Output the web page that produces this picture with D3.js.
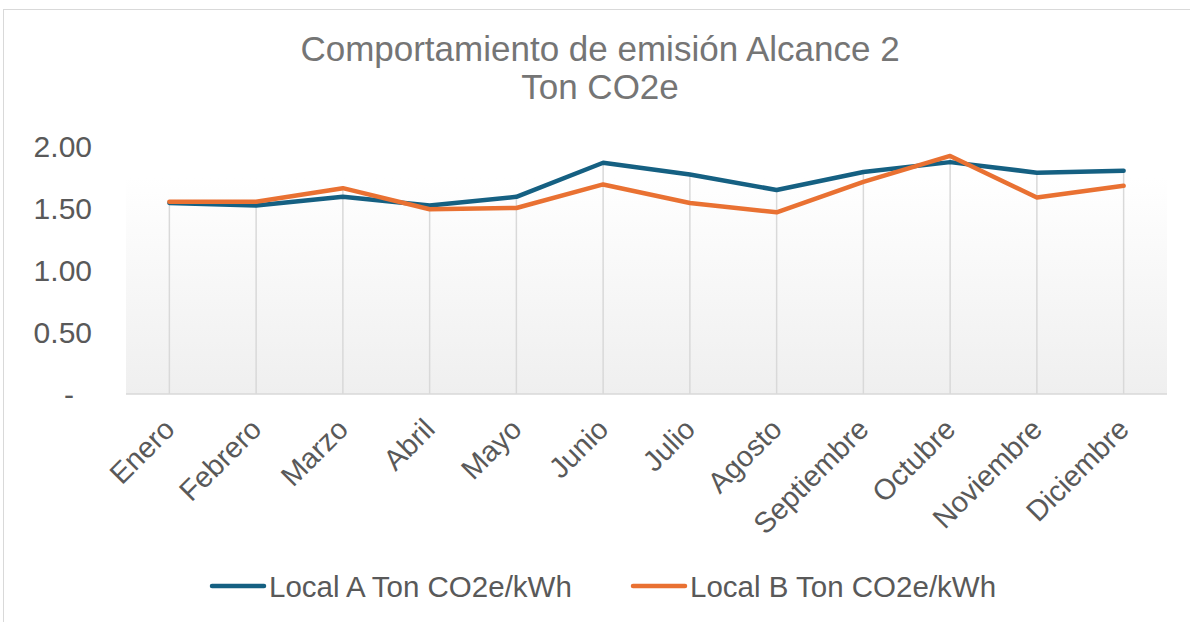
<!DOCTYPE html>
<html>
<head>
<meta charset="utf-8">
<script src="https://cdn.jsdelivr.net/npm/d3@7"></script>
<style>
  body { margin: 0; background: #fff; }
  text { font-family: "Liberation Sans", Arial, sans-serif; }
</style>
</head>
<body>
<div class="plot"></div>
<script>
// data
const months = ["Enero", "Febrero", "Marzo", "Abril", "Mayo", "Junio", "Julio",
  "Agosto", "Septiembre", "Octubre", "Noviembre", "Diciembre"];
const localA = [1.54, 1.52, 1.59, 1.52, 1.59, 1.865, 1.77, 1.645, 1.79, 1.87, 1.785, 1.80];
const localB = [1.55, 1.55, 1.66, 1.49, 1.50, 1.69, 1.54, 1.465, 1.71, 1.92, 1.585, 1.68];
const yTicks = [0, 0.5, 1, 1.5, 2];
const seriesNames = ["Local A Ton CO2e/kWh", "Local B Ton CO2e/kWh"];
const colors = ["#156082", "#E97132"];

const W = 1190, H = 622;
const margin = {top: 146, right: 23, bottom: 228, left: 126};
const w = W - margin.left - margin.right;
const h = H - margin.top - margin.bottom;

const svg = d3.select(".plot")
  .append("svg")
    .attr("width", W)
    .attr("height", H);

// chart border
svg.append("rect")
  .attr("x", 3.5).attr("y", 9.5)
  .attr("width", W + 20).attr("height", H + 20)
  .attr("fill", "none")
  .attr("stroke", "#d9d9d9");

// title
const title = svg.append("text")
  .attr("x", 600)
  .attr("text-anchor", "middle")
  .style("font-size", "35px")
  .style("fill", "#757575");
title.append("tspan").attr("x", 600).attr("y", 61).text("Comportamiento de emisión Alcance 2");
title.append("tspan").attr("x", 600).attr("y", 99).text("Ton CO2e");

const g = svg.append("g")
  .attr("transform", "translate(" + margin.left + "," + margin.top + ")");

const x = d3.scaleBand().domain(months).range([0, w]);
const y = d3.scaleLinear().domain([0, 2]).range([h, 0]);
const cx = d => x(d) + x.bandwidth() / 2;

// plot area gradient
const grad = svg.append("defs").append("linearGradient")
  .attr("id", "bg").attr("x1", 0).attr("y1", 0).attr("x2", 0).attr("y2", 1);
grad.append("stop").attr("offset", "0%").attr("stop-color", "#ffffff");
grad.append("stop").attr("offset", "100%").attr("stop-color", "#efefef");

g.append("rect")
  .attr("x", 0).attr("y", y(1.75))
  .attr("width", w).attr("height", h - y(1.75))
  .attr("fill", "url(#bg)");

// drop lines
g.selectAll(".drop")
  .data(months)
  .enter()
  .append("line")
    .attr("class", "drop")
    .attr("x1", d => cx(d)).attr("x2", d => cx(d))
    .attr("y1", h)
    .attr("y2", (d, i) => y(Math.max(localA[i], localB[i])))
    .attr("stroke", "#d9d9d9")
    .attr("stroke-width", 1.5);

// x axis line
g.append("line")
  .attr("x1", 0).attr("x2", w)
  .attr("y1", h).attr("y2", h)
  .attr("stroke", "#d9d9d9")
  .attr("stroke-width", 1.5);

// y axis labels
const yAxis = g.append("g")
  .call(d3.axisLeft(y).tickValues(yTicks).tickSize(0).tickPadding(34)
    .tickFormat(d => d === 0 ? "-" : d3.format(".2f")(d)));
yAxis.select(".domain").remove();
yAxis.selectAll("text")
  .attr("dy", "0.36em")
  .style("font-family", "'Liberation Sans', Arial, sans-serif")
  .style("font-size", "30px")
  .style("fill", "#595959");
yAxis.selectAll("text").filter(d => d === 0).attr("dx", "-18px");

// x axis labels
const xAxis = g.append("g")
  .attr("transform", "translate(0," + h + ")")
  .call(d3.axisBottom(x).tickSize(0).tickPadding(0));
xAxis.select(".domain").remove();
xAxis.selectAll("text")
  .attr("transform", "translate(7,37) rotate(-45)")
  .attr("dy", 0)
  .attr("y", 0)
  .style("text-anchor", "end")
  .style("font-family", "'Liberation Sans', Arial, sans-serif")
  .style("font-size", "29px")
  .style("fill", "#595959");

// lines
const line = d3.line()
  .x((d, i) => cx(months[i]))
  .y(d => y(d));

[localA, localB].forEach((s, k) => {
  g.append("path")
    .datum(s)
    .attr("d", line)
    .attr("fill", "none")
    .attr("stroke", colors[k])
    .attr("stroke-width", 4.5)
    .attr("stroke-linejoin", "round")
    .attr("stroke-linecap", "round");
});

// legend
const legendX = [212, 633];
const legend = svg.append("g").attr("id", "legend");
seriesNames.forEach((name, k) => {
  legend.append("line")
    .attr("x1", legendX[k]).attr("x2", legendX[k] + 52)
    .attr("y1", 586).attr("y2", 586)
    .attr("stroke", colors[k])
    .attr("stroke-width", 4.5)
    .attr("stroke-linecap", "round");
  legend.append("text")
    .attr("x", legendX[k] + 57)
    .attr("y", 597)
    .style("font-size", "29.5px")
    .style("fill", "#595959")
    .text(name);
});
</script>
</body>
</html>
